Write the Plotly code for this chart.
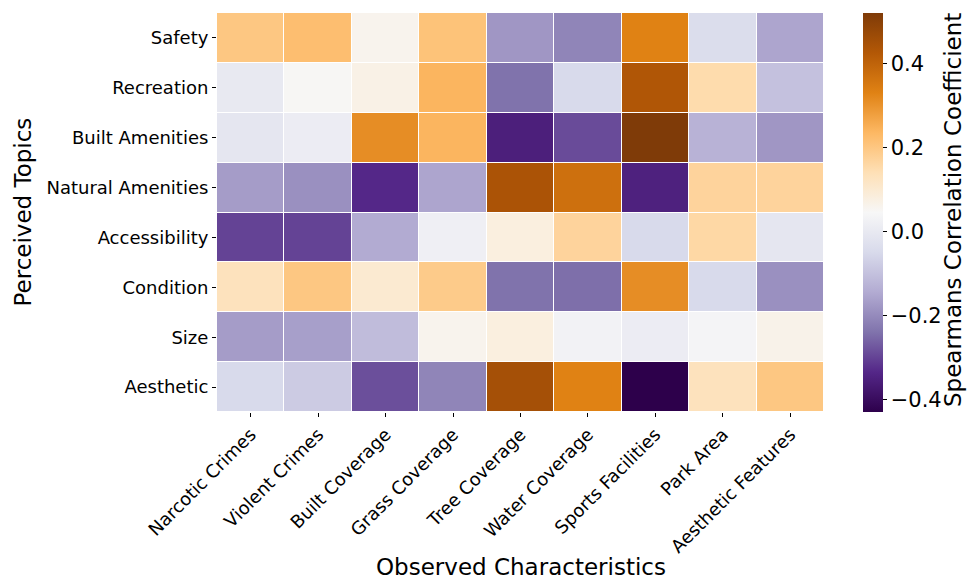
import plotly.graph_objects as go

observed = ["Narcotic Crimes", "Violent Crimes", "Built Coverage", "Grass Coverage",
            "Tree Coverage", "Water Coverage", "Sports Facilities", "Park Area",
            "Aesthetic Features"]
perceived = ["Safety", "Recreation", "Built Amenities", "Natural Amenities",
             "Accessibility", "Condition", "Size", "Aesthetic"]

safety            = [0.20, 0.22, 0.06, 0.21, -0.18, -0.21, 0.33, -0.04, -0.155]
recreation        = [0.00, 0.05, 0.07, 0.24, -0.24, -0.05, 0.43, 0.15, -0.10]
built_amenities   = [-0.01, 0.01, 0.31, 0.24, -0.355, -0.29, 0.52, -0.13, -0.18]
natural_amenities = [-0.17, -0.19, -0.335, -0.155, 0.44, 0.37, -0.35, 0.17, 0.17]
accessibility     = [-0.30, -0.30, -0.145, 0.02, 0.08, 0.17, -0.05, 0.16, -0.01]
condition         = [0.13, 0.20, 0.10, 0.19, -0.24, -0.245, 0.31, -0.05, -0.19]
size              = [-0.17, -0.165, -0.11, 0.06, 0.08, 0.03, 0.01, 0.035, 0.065]
aesthetic         = [-0.05, -0.08, -0.285, -0.21, 0.45, 0.33, -0.43, 0.13, 0.20]

z = [safety, recreation, built_amenities, natural_amenities,
     accessibility, condition, size, aesthetic]

puor_r = ["#2d004b", "#542788", "#8073ac", "#b2abd2", "#d8daeb", "#f7f7f7",
          "#fee0b6", "#fdb863", "#e08214", "#b35806", "#7f3b08"]
colorscale = [[i / (len(puor_r) - 1), c] for i, c in enumerate(puor_r)]

font = "DejaVu Sans"
W, H = 967, 581
ML, MR, MT, MB = 217, 143, 13, 169
pw, ph = W - ML - MR, H - MT - MB

fig = go.Figure(go.Heatmap(
    z=z, x=observed, y=perceived,
    colorscale=colorscale, zmin=-0.43, zmax=0.52,
    xgap=1, ygap=1,
    colorbar=dict(
        thickness=20, len=1.0, lenmode="fraction", y=0.5, yanchor="middle",
        x=(863 - ML) / pw, xanchor="left", outlinewidth=0, xpad=0, ypad=0,
        tickvals=[-0.4, -0.2, 0.0, 0.2, 0.4], tickformat=".1f",
        ticks="outside", ticklen=4, tickcolor="black",
        tickfont=dict(size=21, family=font, color="black"),
    ),
))

fig.update_layout(
    width=W, height=H,
    margin=dict(l=ML, r=MR, t=MT, b=MB, autoexpand=False),
    paper_bgcolor="white", plot_bgcolor="white",
    font=dict(family=font, color="black"),
    xaxis=dict(tickangle=-45, ticks="outside", ticklen=4, tickcolor="black",
               tickfont=dict(size=18, family=font, color="black"),
               showgrid=False, zeroline=False, automargin=False),
    yaxis=dict(autorange="reversed", ticks="outside", ticklen=4, tickcolor="black",
               tickfont=dict(size=18, family=font, color="black"),
               showgrid=False, zeroline=False, automargin=False),
    annotations=[
        dict(text="Observed Characteristics", x=0.5, y=(H - MB - 567) / ph,
             xref="paper", yref="paper",
             showarrow=False, font=dict(size=23, family=font, color="black"),
             yanchor="middle", xanchor="center"),
        dict(text="Perceived Topics", x=(22 - ML) / pw, y=0.5,
             xref="paper", yref="paper",
             showarrow=False, textangle=-90, font=dict(size=23, family=font, color="black"),
             xanchor="center", yanchor="middle"),
        dict(text="Spearmans Correlation Coefficient", x=(953 - ML) / pw,
             y=(H - MB - 210) / ph, xref="paper", yref="paper",
             showarrow=False, textangle=-90, font=dict(size=23, family=font, color="black"),
             xanchor="center", yanchor="middle"),
    ],
)

fig.write_html("out.html", config={"displayModeBar": False},
               post_script="document.body.style.margin='0px';document.body.style.overflow='hidden';")
